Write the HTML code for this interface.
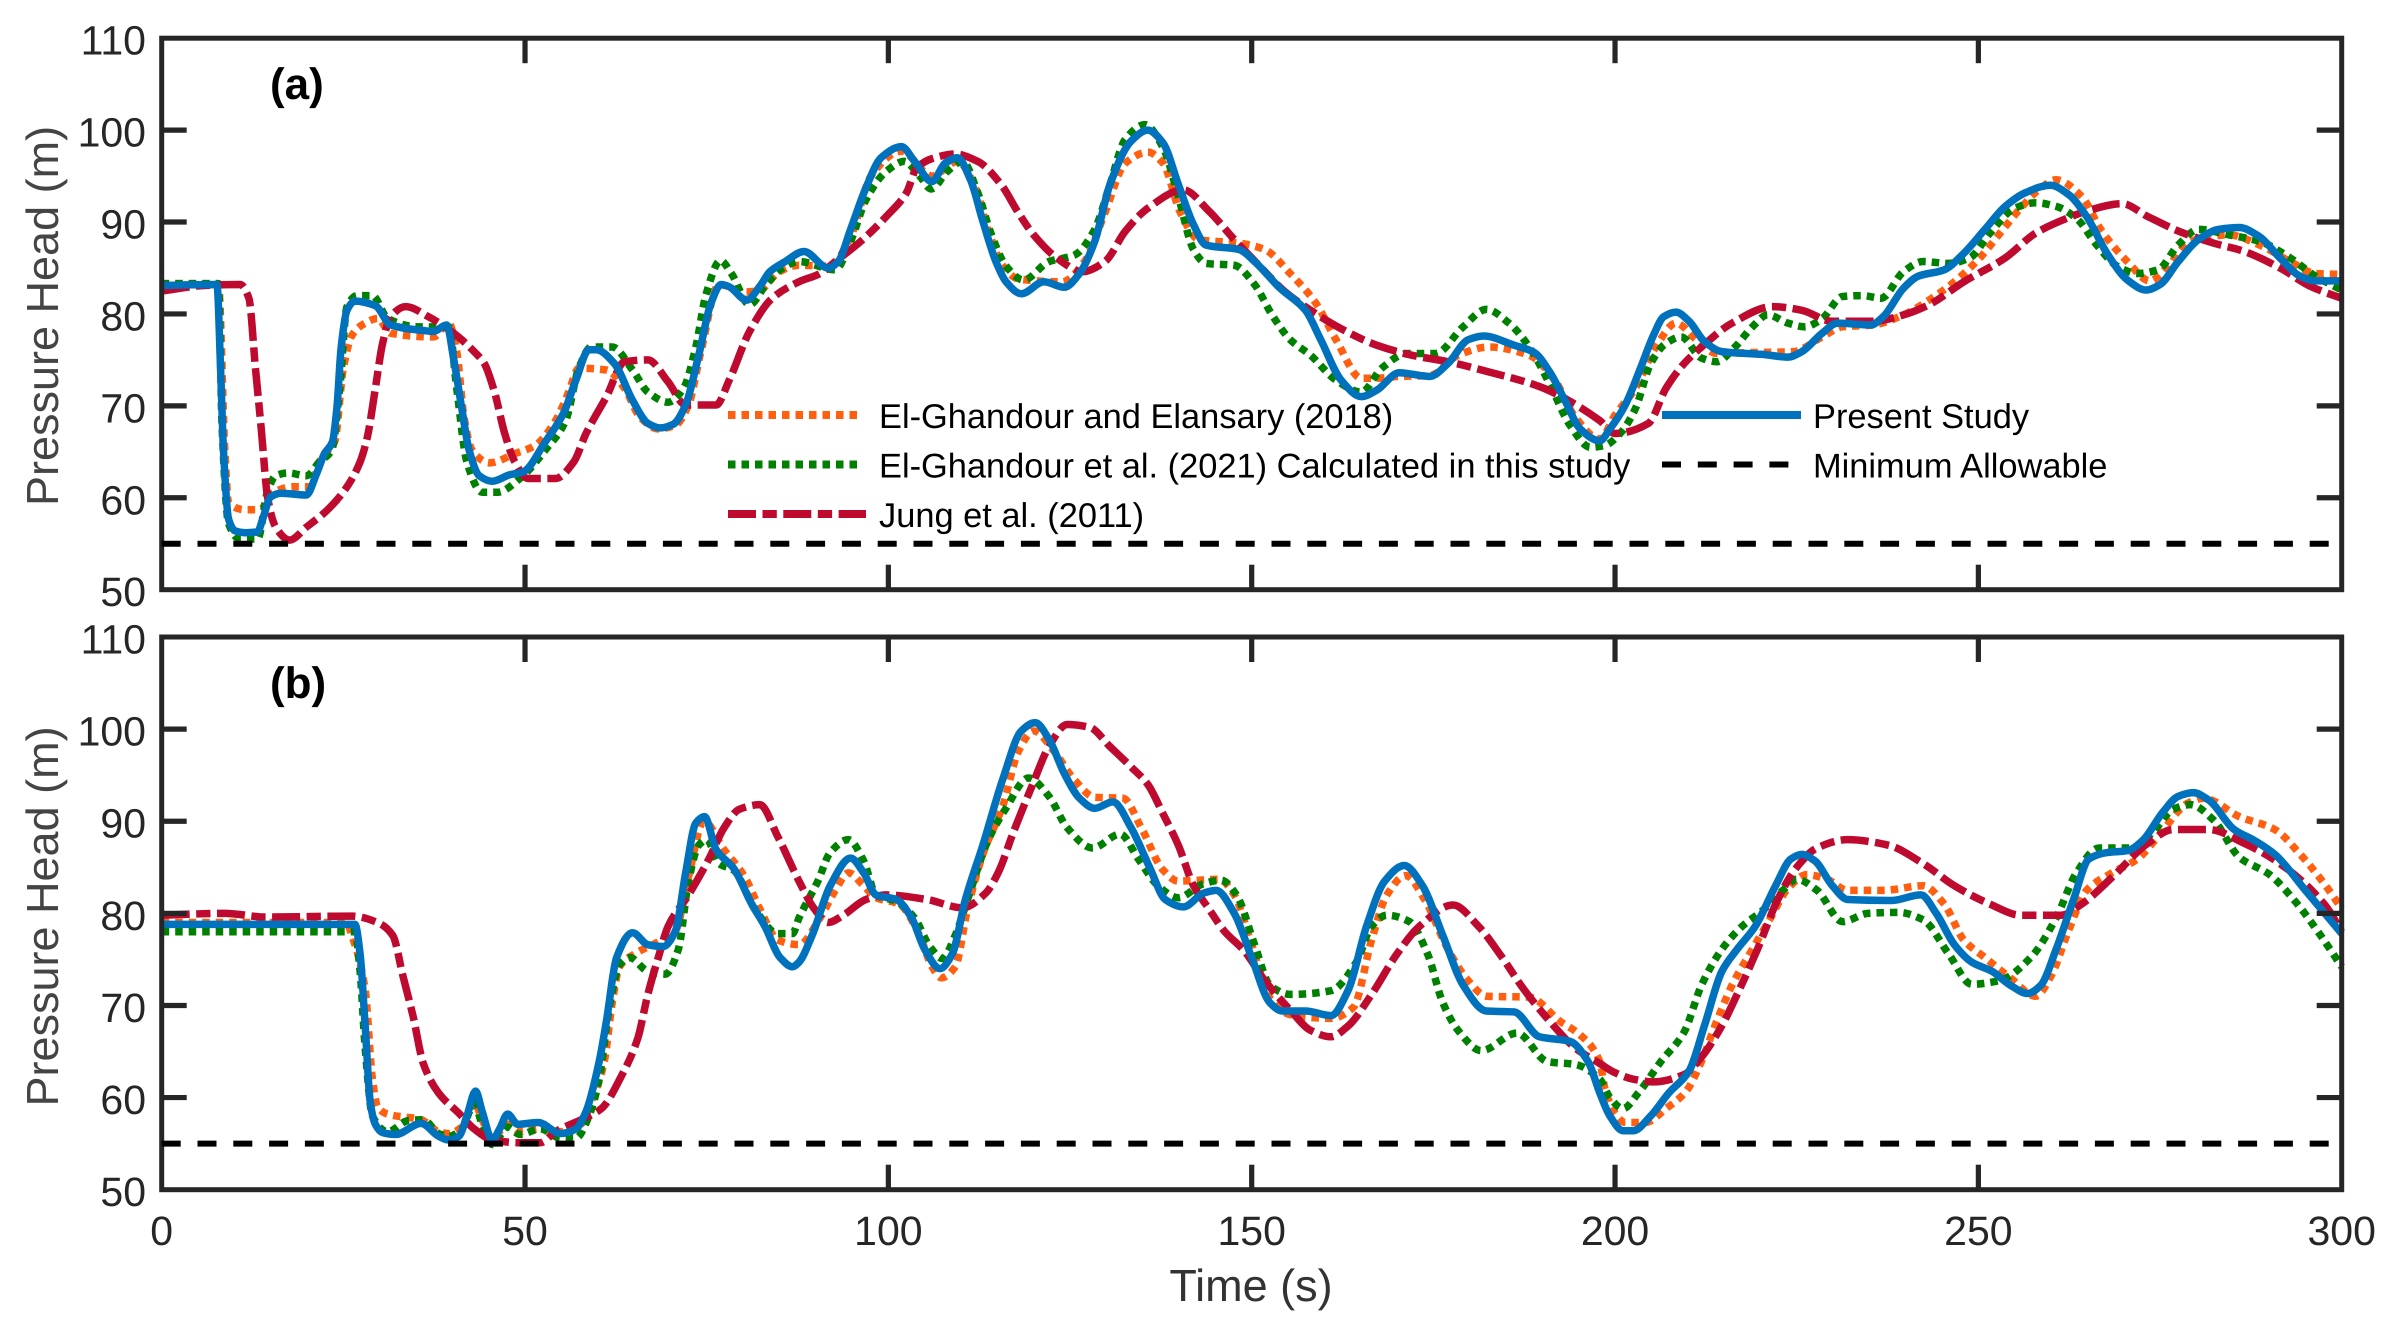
<!DOCTYPE html>
<html lang="en">
<head>
<meta charset="utf-8">
<title>Pressure Head vs Time</title>
<style>
html,body{margin:0;padding:0;background:#fff;}
svg{display:block;}
text{font-family:"Liberation Sans",Arial,sans-serif;text-rendering:geometricPrecision;}
</style>
</head>
<body>
<svg id="chart" xmlns="http://www.w3.org/2000/svg" width="2395" height="1327" viewBox="0 0 2395 1327">
  <rect width="2395" height="1327" fill="#fff"/>
  <g id="panel-a"></g>
  <g id="panel-b"></g>
  <text x="270" y="99" font-size="44" font-weight="bold" fill="#000">(a)</text>
  <text x="270" y="698" font-size="44" font-weight="bold" fill="#000">(b)</text>
  <text transform="translate(58 316) rotate(-90)" text-anchor="middle" font-size="45" fill="#444">Pressure Head (m)</text>
  <text transform="translate(58 916.5) rotate(-90)" text-anchor="middle" font-size="45" fill="#444">Pressure Head (m)</text>
  <text x="1251" y="1301" text-anchor="middle" font-size="45" fill="#333">Time (s)</text>
  <g id="legend">
    <line x1="728" x2="860" y1="415" y2="415" stroke="#ff5f0f" stroke-width="8" stroke-dasharray="7.5 6"/>
    <text x="879" y="428" font-size="34.4" fill="#000">El-Ghandour and Elansary (2018)</text>
    <line x1="728" x2="860" y1="464.5" y2="464.5" stroke="#008000" stroke-width="8" stroke-dasharray="7.5 6"/>
    <text x="879" y="477.5" font-size="34.4" fill="#000">El-Ghandour et al. (2021) Calculated in this study</text>
    <line x1="728" x2="866" y1="514" y2="514" stroke="#bf0a30" stroke-width="8" stroke-dasharray="28 6.5 14.3 6.5"/>
    <text x="879" y="527" font-size="34.4" fill="#000">Jung et al. (2011)</text>
    <line x1="1662" x2="1801" y1="415" y2="415" stroke="#0072bd" stroke-width="8"/>
    <text x="1813" y="428" font-size="34.4" fill="#000">Present Study</text>
    <line x1="1662" x2="1791" y1="464.5" y2="464.5" stroke="#000" stroke-width="6" stroke-dasharray="19 16.8"/>
    <text x="1813" y="477.5" font-size="34.4" fill="#000">Minimum Allowable</text>
  </g>
</svg>
<script>
// ---------- tick labels ----------
const xTicks = [0, 50, 100, 150, 200, 250, 300];
const yTicks = [50, 60, 70, 80, 90, 100, 110];

// ---------- minimum allowable ----------
const limitT = [0, 300];
const limitV = [55, 55];

// ---------- panel (a) ----------
const aOrangeT = [0,7.8,8.7,9.2,11.5,13.6,15,18.1,20.3,22,23.8,25,26.2,28,29.7,31.5,37.4,39.5,40.6,41.6,42.7,45.1,48.6,51.4,54.2,56,57.4,61.2,63.7,65.8,68.3,70.7,72.5,74.2,76.7,80.5,82.3,85,87.7,91.9,94.8,97.6,101.8,106,109.5,112,113.7,115.8,117.9,123.9,127,129.8,132.6,135.7,137.8,140.2,142.7,148.3,151.8,155.3,158.8,161.6,165.1,167.2,170,174.5,178.4,182.6,188.2,191.7,194.5,197.9,200,202.8,205.6,208.4,211.2,214,218.9,224.5,228.5,231.3,235.5,239.7,243.2,246.7,250.2,253,255.8,258.6,260.7,264.2,267,270.5,273.6,276.1,279.2,284.5,288.7,292.9,296.4,300];
const aOrangeV = [83.3,83.3,65,59.5,58.7,58.7,60.4,61.2,61.2,64.4,66.1,74.1,77.7,79,79.5,77.9,77.5,79,75.9,68.8,65.2,63.8,64.8,65.7,68.4,71.5,74.1,73.9,71.9,68.8,67.5,67.9,70.1,75.9,83.2,82.4,82.6,84.6,85.3,85.2,88.4,95,97.7,95,96.6,93.7,89.2,85.2,83.8,83.5,85.7,91,96.4,97.6,96.4,91,88.1,87.7,87,84.4,81.2,77.2,73,73,73.2,73.3,75.5,76.4,75.5,72.8,68.8,66.4,69,71.9,76.4,79,77.2,75.7,75.8,75.9,77.5,78.6,78.8,79.9,81.5,83.5,86.1,88.8,91.5,93.7,94.6,92.8,89,85.7,83.6,85.2,87.9,88.6,87.5,85.7,84.4,84.3];

const aGreenT = [0,7.8,8.3,9.2,10.8,13.2,14.6,15.7,17.4,19.9,21.7,23.4,24.5,25.5,26.9,29,31.1,35.3,39.5,40.6,42,44.1,46.2,49.3,52.8,55.6,57.4,59.1,62,64.8,66.9,69.7,71.8,73.5,74.9,76.9,78.4,80.9,83,85.1,87.7,92.7,94.8,96.9,99.7,102.2,104.3,105.9,108.1,110.2,112.3,114.1,116.2,118.6,122.1,125.6,128.4,130.5,132.6,135.3,137.8,139.9,142,143.7,147.6,150.4,152.8,155.3,158.1,161.6,165.1,167.9,171.4,175.3,179.1,182.3,185.4,188.2,191,193.8,196.6,198.6,200.7,202.8,204.9,207,209.1,211.9,214,216.5,218.9,221,223.8,226.1,228.5,231.3,234.1,236.6,239.7,242.4,245.9,248.8,251.6,255,257.9,260.7,263.5,266.3,269.1,271.9,274.7,277.5,280.3,284.5,288.7,292.9,296.4,300];
const aGreenV = [83.3,83.3,67.9,57.2,55.5,55.5,60.8,62.4,62.7,62.4,63.9,65.2,71.9,80.8,82,82,79.5,78.6,78.6,71.9,63.9,60.6,60.6,62.1,65.2,68.4,74.1,76.4,76.4,73.9,71.5,70.4,71.9,76.4,82.1,85.8,84.4,81,83,84.8,85.7,84.8,87.9,92.4,95.5,96.6,95,93.6,95.5,96.6,93.2,88.8,85.2,83.7,85.7,86.4,89.2,94.1,99,100.6,98.1,92.8,87,85.5,85.3,83.2,79.9,77.2,75.5,72.8,71.5,74.1,75.7,75.7,78.6,80.5,79,76.4,72.4,67.9,65.5,65.7,67,69.7,74.6,76.8,77.5,75.2,74.8,76.4,78.6,79.9,79,78.6,79.5,81.9,82,81.7,84.6,85.7,85.5,86.1,88.8,91.5,92.1,91.7,90.4,87.5,85.2,84.4,84.8,87.5,89.2,88.6,87.9,86.1,84.1,82.6];

const aCrimsonT = [0,5.9,10.8,12,12.9,13.7,14.6,15.7,17.6,19.9,22.7,25.5,27.3,28.3,29.4,30.4,31.5,33.6,36.7,40.2,43,44.4,45.8,47.2,48.6,50.4,54.2,56.7,58.4,61.2,63.7,66.9,69.7,72.1,76.3,78.1,80.9,84,87.7,90.6,92.7,96.2,99.7,102.5,103.9,106.4,109.2,112.3,115.5,117.9,120,123.5,126.7,129.8,132.6,135.7,140.6,144.1,147.6,151.1,154.6,158.1,162.3,167.2,172.1,177,182.6,189.6,193.1,197.9,200,204.6,207,209.5,211.9,216.1,221.7,225.7,229.9,235.5,239.7,243.2,248,253.7,257.9,262.8,264.9,269.8,273.3,278.2,282.4,286.6,291.5,295.7,300];
const aCrimsonV = [82.5,83.1,83.2,81.7,74.1,67.5,59.9,56.8,55.4,56.8,58.6,61.2,63.9,66.6,71.9,76.8,79.7,80.8,79.7,77.9,75.9,74.6,71.5,67,63.9,62.1,62.1,63.9,67,71,74.8,75,72.6,70.1,70.1,72.8,78.1,81.7,83.5,84.4,85.7,87.9,90.6,93.2,95.9,97,97.4,96.6,94.1,91,88.6,85.9,84.6,85.7,89,91.5,93.5,91.2,88.1,85.2,82.4,80.4,78.4,76.6,75.5,74.8,73.7,72.1,70.8,68.4,67,68.1,71.9,74.6,76.4,79,80.8,80.4,79.2,79.2,79.9,81,83.5,86.1,88.8,90.6,91.2,92,90.6,88.8,87.7,86.8,85,83,81.7];

const aBlueT = [0,7.6,8.1,8.5,9.2,10.1,11.5,13.2,13.9,15,16.4,19.9,21.3,22.4,23.5,24.1,24.7,25.5,26.6,29.4,31.5,36,37.4,39.2,40.2,41.3,42.3,43.7,45.5,47.9,49.7,52.8,55.3,57,58.8,59.8,62.3,64.8,66.9,68.6,70.4,72.1,73.9,75.6,77,78,80.5,82.3,83.7,85.8,88.4,91.7,93.1,94.8,96.9,99,101.8,103.6,106,107.8,109.5,111.3,113,114.8,116.2,118.3,121.4,124.2,126.3,128.4,130.5,133.4,135.7,137.8,139.9,142,143.7,148.3,150.4,153.9,157.4,159.5,162.3,165.1,167.2,170.3,174.5,177,179.8,181.9,186.1,188.9,191,193.1,195.2,197.9,199.3,201.4,203.5,205.3,206.7,208.4,210.2,212.3,214.7,220.3,223.8,225.7,228.5,230.6,235.2,236.9,239.7,241.7,245.3,248,250.9,253.7,256.5,259.9,262.4,264.9,267.7,270.5,273.1,275,277.5,280.3,283.1,285.9,288.7,291.5,294.3,296.4,300];
const aBlueV = [83.1,83.2,74.1,65.2,57.7,56.4,56.2,56.3,57.7,60.1,60.5,60.3,62.6,64.8,66.1,69.7,76.4,80.4,81.4,80.9,78.8,78.2,78.1,78.8,75,69.7,65.2,62.4,61.8,62.5,62.8,66.1,69.2,72.8,76.1,76.1,74.6,70.6,68.1,67.6,68,70.1,75.5,81.2,83.2,83,81.5,83,84.6,85.7,86.8,85,85.7,89.2,93.7,97,98.2,96.6,94.4,96.4,97,94.6,90.1,85.7,83.5,82.2,83.5,82.9,84.4,87.9,94.1,98.8,100,98.6,94.1,89.7,87.5,87,85.7,82.8,80.4,77.2,72.8,71,71.7,73.6,73.2,74.6,77.2,77.6,76.6,75.8,73.7,70.6,67.5,66.2,67.5,70.1,74.1,77.7,79.7,80.2,79.2,77,75.9,75.6,75.3,75.9,77.9,79,78.8,79.7,82.8,84.1,84.8,86.6,89.2,91.7,93.2,94,93,90.6,86.6,83.7,82.6,83.2,85.7,88.1,89.2,89.4,88.4,86.1,84.1,83.6,83.6];

// ---------- panel (b) ----------
const bOrangeT = [0,25.5,26,28,29,29.7,31.1,35.7,38.1,39.5,41.3,43,44.1,45.5,47.6,49.3,52.1,54.9,57.7,59.1,60.9,62,63,65.1,68.3,70.7,72.5,74.6,77.4,80.2,82.3,84.8,87.7,90.6,92.7,94.5,96.6,98.3,101.5,104.3,106,107.3,109.2,110.9,113,115.8,117.9,120,122.8,125.6,128.4,132.3,134.8,137.8,139.9,142.7,145.5,147.6,150,152.5,155.3,160.9,164,166.5,168.6,171.2,173.8,177,179.8,182.3,188.2,192.4,195.2,197.9,198.6,200,201.4,204.2,207,209.8,211.6,214,216.1,218.9,221.4,223.8,226.4,229.2,232,236.9,242.4,245.3,248,250.9,254.4,257.9,260,262.4,264.9,268.4,271.9,274.7,278.9,281,285.9,290.8,294.3,297.8,300];
const bOrangeV = [79,79,78,71.7,62,59,58.2,57.6,56.3,56.1,56.8,59.5,57.6,55.6,57.1,56.3,56.6,56.3,57.1,59.5,63.9,70.3,74.2,75.6,76.9,78.1,84,90,86.9,84,80.5,77.1,76.6,79.5,82.5,84.4,83,81.7,81,77.6,74.2,73,74.2,80.5,86.4,91.8,97.6,99.8,97.6,94.5,92.6,92.5,89.3,84.7,83.5,83.6,83.7,82,76.6,70.8,69,68.6,69.8,77.1,82,84.1,81.5,76.1,72.7,71,70.9,68.3,66.8,63.9,61,58.3,57.3,57.3,58.8,60.7,63.4,68.3,72.2,76.1,79.5,82.7,84.2,83.7,82.5,82.5,83,81,77.1,75.2,73,71,73.2,78.1,82.5,84.4,85.9,88.3,92,92.5,90.5,89.1,86.4,83,80.5];

const bGreenT = [0,26.6,27.3,28,29,31.1,33.9,36,38.1,39.5,41.3,43,44.1,45.5,47.6,49.3,52.1,54.9,57,58.8,60.2,61.6,63,64.4,66.9,69.3,71.1,72.5,73.9,75,76.7,78.7,81.6,84.8,86.8,87.7,90.3,92,94.5,96.6,98.3,101.1,103.6,105.7,107.4,109.2,110.9,113.7,116.1,119.3,122.1,124.6,128.1,131.9,134.4,137.1,139.9,143.3,145.8,147.9,150.4,152.5,155.3,160.9,164.4,166.5,168.6,171.7,174.2,176.3,178.4,181.6,186.5,190.7,194.5,197.9,199.3,201.1,203.2,206.3,209.5,211.9,214.7,217.5,220.3,223.1,225,227.8,231.3,234.8,239,242.4,245.9,249.1,252.9,257.2,260.7,263.5,266.6,271.2,274,276.8,279.2,282.4,285.9,290.1,293.6,297.1,300];
const bGreenV = [78,78,73.7,65.4,58,56.3,57.5,57.6,56.1,55.8,56.6,59.3,57.1,54.9,56.8,56,56.6,55.6,55.6,58,62,69.8,74.4,75.2,73.7,73.4,76.1,83.5,87.4,88,85.4,84.7,80.5,77.8,77.8,79.5,83.5,86.6,88,85.7,82,81.3,79.5,76.4,75.1,77.6,81.5,87.9,91.3,94.7,92.7,89.3,87.1,88.6,85.9,83,81.7,83.2,83.6,82,76.6,72.2,71.2,71.6,74.7,78.6,79.8,79.1,75.6,70.3,67.3,65.1,67,63.9,63.6,62,60,58.8,60.5,63.9,67.1,72.2,76.1,78.6,80.3,82.5,83.7,82.5,79.1,80,80.1,79.3,75.6,72.3,72.7,75.2,79.5,84.4,87.1,87.1,88.8,91.3,91.8,90.1,86.1,84.2,81.3,77.6,74.2];

const bCrimsonT = [0,8.7,14.3,26.2,29.7,31.8,33.2,34.6,36,38.1,40.9,43,45.5,49.3,52.1,54.2,57.7,60.5,63.3,65.5,66.9,68.3,69.7,72.5,75.3,77.4,79.5,82.3,84.8,87.7,89.8,91.7,93.8,96.9,99.7,105.3,110.2,113.4,115.1,117.2,119.7,122.1,124.6,127.7,130.5,133.4,135.7,137.8,139.9,142,144.1,146.2,149,151.8,155.3,158.1,160.9,163.3,166.5,170,173.1,177.7,181.2,184.3,187.5,191,194.5,197.9,200,202.5,205.3,209.5,211.9,214.7,216.8,219.6,222.4,224.9,227.8,232,237.6,242.4,246.7,251.6,255.8,261.4,264.2,268.4,273.3,276.8,281.7,286.6,291.5,297.8,300];
const bCrimsonV = [79.8,80,79.6,79.7,79,77.6,73.2,68.8,63.7,60.5,58.3,56.6,55.4,55.1,55.1,56.3,57.6,58.8,62.4,66.4,71.2,75.1,78.6,82,85.9,89.3,91.3,91.8,88.3,83.5,80.5,79,79.8,81.5,82,81.5,80.6,82.2,84.4,88.8,93.7,98.1,100.5,100.2,98.1,95.9,94,90.8,87.4,83,80.5,78.1,75.9,72.7,69.5,67.3,66.6,67.8,71.2,75.6,78.6,80.9,78.6,75.4,71.7,68.3,65.4,63.7,62.7,62,61.7,62.5,64.4,67.8,71.2,76.1,81.5,84.9,87.1,88,87.4,85.4,83,81,79.8,79.8,81,83.9,87.6,89.1,89.1,87.6,85.4,80.8,78];

const bBlueT = [0,26.6,27.3,28,28.7,29.4,30.4,32.2,35.7,38.1,39.5,40.9,42,43.2,44.1,45.5,46.5,47.6,49,51.8,54.9,57,58.4,60.2,61.2,62.6,64.8,66.9,69,70.7,72.1,73.5,74.7,76.3,78.7,81.2,83,85.1,86.8,87.7,89.5,92,94.8,96.6,98.3,101.1,103.2,105,107.1,108.8,110.6,113,115.8,118.3,120.2,122.1,124.2,126.3,128.4,130.9,133.4,136,138.1,140.6,143.4,145.1,147.6,150,152.5,154.2,157.4,160.9,163.3,165.8,168.3,171,173.5,176.3,179.1,182.3,186.1,189.6,193.8,196.3,197.9,199.3,201.1,202.5,204.9,207.4,210.2,212.3,214.7,216.8,219.3,222.1,224.2,225.7,227.5,229.9,232,238,242.1,244.2,246.7,249.1,251.9,254.4,256.8,258.6,260.7,263.1,265.2,267.7,270.5,272.6,275.4,277.5,279.6,281.7,285.2,288,290.8,295,300];
const bBlueV = [78.8,78.8,75.6,67.8,59.5,57.1,56.2,56,57.2,55.8,55.4,55.8,58,60.7,58.5,55.4,56.6,58.2,57.1,57.3,56.1,56.6,58.5,63.9,68.3,75.2,77.9,76.6,76.4,78.1,84.4,89.8,90.5,86.9,84.9,81,78.6,75.2,74.2,74.7,77.6,83,86,84.4,82,81.5,79.5,76.1,74,75.6,81.5,87.4,94.7,99.8,100.7,98.9,95.2,92.5,91.4,92.1,89.3,84.9,81.5,80.7,82.2,82.5,80,75.2,70.3,69.4,69.4,68.9,71.7,78.6,83.5,85.2,83,77.6,72.2,69.4,69.3,66.6,66.1,63.9,60.5,58,56.4,56.4,58,60.5,62.9,67.8,73.7,76.1,78.6,83,85.9,86.4,85.7,83,81.5,81.4,82,80,76.6,74.7,73.7,72.2,71.3,72.2,76.1,81.5,85.9,86.6,86.8,87.9,91,92.7,93.1,92.3,89.1,87.9,86.4,82.5,77.8];

// ---------- drawing ----------
const SVGNS = 'http://www.w3.org/2000/svg';
const FRAME_COLOR = '#262626';
const X_LEFT = 161.7, X_RIGHT = 2341.7;
const panelA = {top: 38.2, bottom: 589.7, el: document.getElementById('panel-a')};
const panelB = {top: 637, bottom: 1189.7, el: document.getElementById('panel-b')};

function xScale(t) { return X_LEFT + (t - 0) / 300 * (X_RIGHT - X_LEFT); }
function yScale(panel, v) { return panel.bottom - (v - 50) / 60 * (panel.bottom - panel.top); }

// Monotone cubic path through the points
function smoothPath(xs, ys) {
  const n = xs.length;
  const slope = [], tan = new Array(n);
  for (let i = 0; i < n - 1; i++) slope.push((ys[i + 1] - ys[i]) / (xs[i + 1] - xs[i]));
  tan[0] = slope[0];
  tan[n - 1] = slope[n - 2];
  for (let i = 1; i < n - 1; i++) {
    if (slope[i - 1] * slope[i] <= 0) { tan[i] = 0; continue; }
    const h0 = xs[i] - xs[i - 1], h1 = xs[i + 1] - xs[i];
    const w0 = 2 * h1 + h0, w1 = h1 + 2 * h0;
    tan[i] = (w0 + w1) / (w0 / slope[i - 1] + w1 / slope[i]);
  }
  let d = 'M' + xs[0].toFixed(2) + ' ' + ys[0].toFixed(2);
  for (let i = 0; i < n - 1; i++) {
    const h = (xs[i + 1] - xs[i]) / 3;
    d += 'C' + (xs[i] + h).toFixed(2) + ' ' + (ys[i] + tan[i] * h).toFixed(2) + ' ' +
      (xs[i + 1] - h).toFixed(2) + ' ' + (ys[i + 1] - tan[i + 1] * h).toFixed(2) + ' ' +
      xs[i + 1].toFixed(2) + ' ' + ys[i + 1].toFixed(2);
  }
  return d;
}

function drawSeries(panel, name, ts, vs, color, width, dash) {
  const path = document.createElementNS(SVGNS, 'path');
  
  
  path.setAttribute('d', smoothPath(ts.map(xScale), vs.map(function (v) { return yScale(panel, v); })));
  path.setAttribute('fill', 'none');
  path.setAttribute('stroke', color);
  path.setAttribute('stroke-width', width);
  path.setAttribute('stroke-linejoin', 'round');
  if (dash) path.setAttribute('stroke-dasharray', dash);
  panel.el.appendChild(path);
}

function drawLimit(panel, name) {
  const line = document.createElementNS(SVGNS, 'line');
  
  
  line.setAttribute('x1', xScale(limitT[0]));
  line.setAttribute('x2', xScale(limitT[1]));
  line.setAttribute('y1', yScale(panel, limitV[0]));
  line.setAttribute('y2', yScale(panel, limitV[1]));
  line.setAttribute('stroke', '#000');
  line.setAttribute('stroke-width', '6');
  line.setAttribute('stroke-dasharray', '19 16.8');
  panel.el.appendChild(line);
}

function addTick(panel, name, x1, y1, x2, y2) {
  const tick = document.createElementNS(SVGNS, 'line');
  
  
  tick.setAttribute('x1', x1);
  tick.setAttribute('y1', y1);
  tick.setAttribute('x2', x2);
  tick.setAttribute('y2', y2);
  tick.setAttribute('stroke', FRAME_COLOR);
  tick.setAttribute('stroke-width', '5.2');
  panel.el.appendChild(tick);
}

function addLabel(panel, name, x, y, anchor, content) {
  const label = document.createElementNS(SVGNS, 'text');
  
  
  label.setAttribute('x', x);
  label.setAttribute('y', y);
  label.setAttribute('text-anchor', anchor);
  label.setAttribute('font-size', '41');
  label.setAttribute('fill', FRAME_COLOR);
  label.textContent = content;
  panel.el.appendChild(label);
}

function drawFrame(panel, showXLabels) {
  const frame = document.createElementNS(SVGNS, 'rect');
  
  
  frame.setAttribute('x', X_LEFT);
  frame.setAttribute('y', panel.top);
  frame.setAttribute('width', X_RIGHT - X_LEFT);
  frame.setAttribute('height', panel.bottom - panel.top);
  frame.setAttribute('fill', 'none');
  frame.setAttribute('stroke', FRAME_COLOR);
  frame.setAttribute('stroke-width', '5');
  panel.el.appendChild(frame);

  xTicks.forEach(function (t) {
    const x = xScale(t);
    if (t !== xTicks[0] && t !== xTicks[xTicks.length - 1]) {
      addTick(panel, 'x-tick-top', x, panel.top, x, panel.top + 25);
      addTick(panel, 'x-tick-bottom', x, panel.bottom, x, panel.bottom - 25);
    }
    if (showXLabels) addLabel(panel, 'x-tick-label', x, 1245, 'middle', String(t));
  });
  yTicks.forEach(function (v) {
    const y = yScale(panel, v);
    if (v !== yTicks[0] && v !== yTicks[yTicks.length - 1]) {
      addTick(panel, 'y-tick-left', X_LEFT, y, X_LEFT + 25, y);
      addTick(panel, 'y-tick-right', X_RIGHT, y, X_RIGHT - 25, y);
    }
    addLabel(panel, 'y-tick-label', 146, y + 16.5, 'end', String(v));
  });
}

const DOT = '7.5 6';
const DASHDOT = '28 6.5 14.3 6.5';

drawSeries(panelA, 'series-el-ghandour-elansary-a', aOrangeT, aOrangeV, '#ff5f0f', 7.5, DOT);
drawSeries(panelA, 'series-el-ghandour-2021-a', aGreenT, aGreenV, '#008000', 7.5, DOT);
drawSeries(panelA, 'series-jung-a', aCrimsonT, aCrimsonV, '#bf0a30', 7.5, DASHDOT);
drawSeries(panelA, 'series-present-study-a', aBlueT, aBlueV, '#0072bd', 7.5, null);
drawFrame(panelA, false);
drawLimit(panelA, 'minimum-allowable-line-a');

drawSeries(panelB, 'series-el-ghandour-elansary-b', bOrangeT, bOrangeV, '#ff5f0f', 7.5, DOT);
drawSeries(panelB, 'series-el-ghandour-2021-b', bGreenT, bGreenV, '#008000', 7.5, DOT);
drawSeries(panelB, 'series-jung-b', bCrimsonT, bCrimsonV, '#bf0a30', 7.5, DASHDOT);
drawSeries(panelB, 'series-present-study-b', bBlueT, bBlueV, '#0072bd', 7.5, null);
drawFrame(panelB, true);
drawLimit(panelB, 'minimum-allowable-line-b');
</script>
</body>
</html>
